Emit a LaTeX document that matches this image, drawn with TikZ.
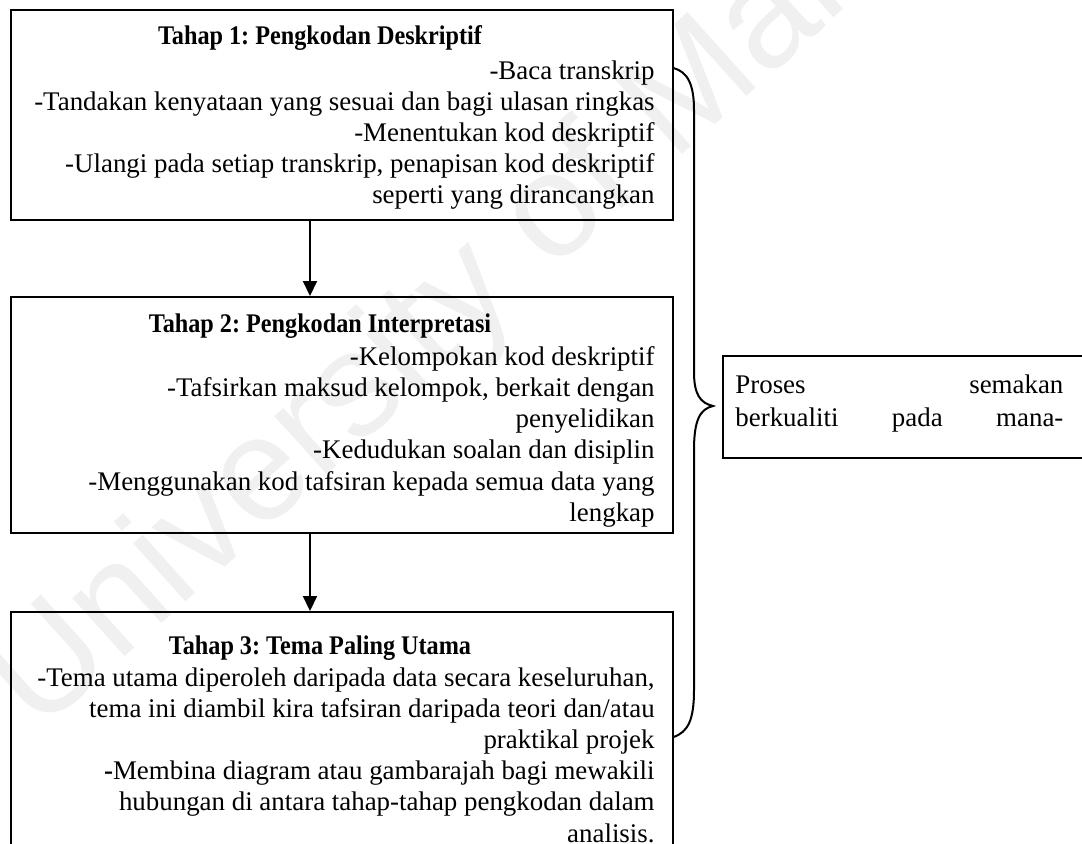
\documentclass[tikz,border=0pt]{standalone}
\usepackage{fontspec}
\usepackage{graphicx}
\setmainfont{Liberation Serif}
\newfontfamily\wmfont{Liberation Sans}
\usetikzlibrary{arrows.meta,calc}
\frenchspacing
\newcommand{\ttltext}[1]{\scalebox{0.9}[1]{#1}}
\begin{document}
\begin{tikzpicture}[x=0.5pt,y=-0.5pt,
  box/.style={draw,line width=1pt,rectangle,inner sep=0pt},
  ttl/.style={font=\fontsize{13.45}{15.6}\selectfont\bfseries,inner sep=0pt},
  body/.style={font=\fontsize{13.45}{15.6}\selectfont,align=right,inner sep=0pt,anchor=north east},
  arr/.style={line width=1pt,-{Triangle[length=7.5pt,width=7pt]}},
  brace/.style={line width=1pt},
  wm/.style={font=\wmfont\fontsize{74}{74}\selectfont,text=gray!12,inner sep=0pt,anchor=base west,rotate=42}]
\useasboundingbox (0,0) rectangle (1082,843);
\clip (0,0) rectangle (1082,843);
\node[wm] (wmark) at (38,735) {University of Malaya};
% boxes
\node[box,minimum width=331pt,minimum height=105pt] (b1) at (341.5,115) {};
\node[box,minimum width=331pt,minimum height=118pt] (b2) at (341.5,415) {};
\node[box,minimum width=331pt,minimum height=150pt] (b3) at (341.5,762) {};
\node[box,minimum width=188.5pt,minimum height=51pt] (rb) at (911.5,407) {};
% titles
\node[ttl] (t1) at (320,38) {\ttltext{Tahap 1: Pengkodan Deskriptif}};
\node[ttl] (t2) at (320,326) {\ttltext{Tahap 2: Pengkodan Interpretasi}};
\node[ttl] (t3) at (320,648) {\ttltext{Tahap 3: Tema Paling Utama}};
% bodies
\node[body] (d1) at (655,60) {-Baca transkrip\\
-Tandakan kenyataan yang sesuai dan bagi ulasan ringkas\\
-Menentukan kod deskriptif\\
-Ulangi pada setiap transkrip, penapisan kod deskriptif\\
seperti yang dirancangkan};
\node[body] (d2) at (655,346) {-Kelompokan kod deskriptif\\
-Tafsirkan maksud kelompok, berkait dengan\\
penyelidikan\\
-Kedudukan soalan dan disiplin\\
-Menggunakan kod tafsiran kepada semua data yang\\
lengkap};
\node[body] (d3) at (655,667) {-Tema utama diperoleh daripada data secara keseluruhan,\\
tema ini diambil kira tafsiran daripada teori dan/atau\\
praktikal projek\\
\textbf{-}Membina diagram atau gambarajah bagi mewakili\\
hubungan di antara tahap-tahap pengkodan dalam\\
analisis.};
\node[font=\fontsize{13.45}{16.5}\selectfont,align=left,inner sep=0pt,anchor=north west] (rt) at (735,374)
  {\makebox[164pt][s]{Proses semakan}\\\makebox[164pt][s]{berkualiti pada mana-}};
% arrows
\coordinate (ax) at (310,0);
\draw[arr] (b1.south -| ax) -- (b2.north -| ax);
\draw[arr] (b2.south -| ax) -- (b3.north -| ax);
% brace
\coordinate (bt) at (b1.east |- 0,68);
\coordinate (bb) at (b3.east |- 0,737);
\coordinate (tip) at (713,406);
\draw[brace] (bt) .. controls (688,72) and (694,85) .. (694,110) -- (694,372)
  .. controls (694,394) and (700,403) .. (tip)
  .. controls (700,409) and (694,420) .. (694,450) -- (694,690)
  .. controls (694,720) and (688,732) .. (bb);
\end{tikzpicture}
\end{document}
